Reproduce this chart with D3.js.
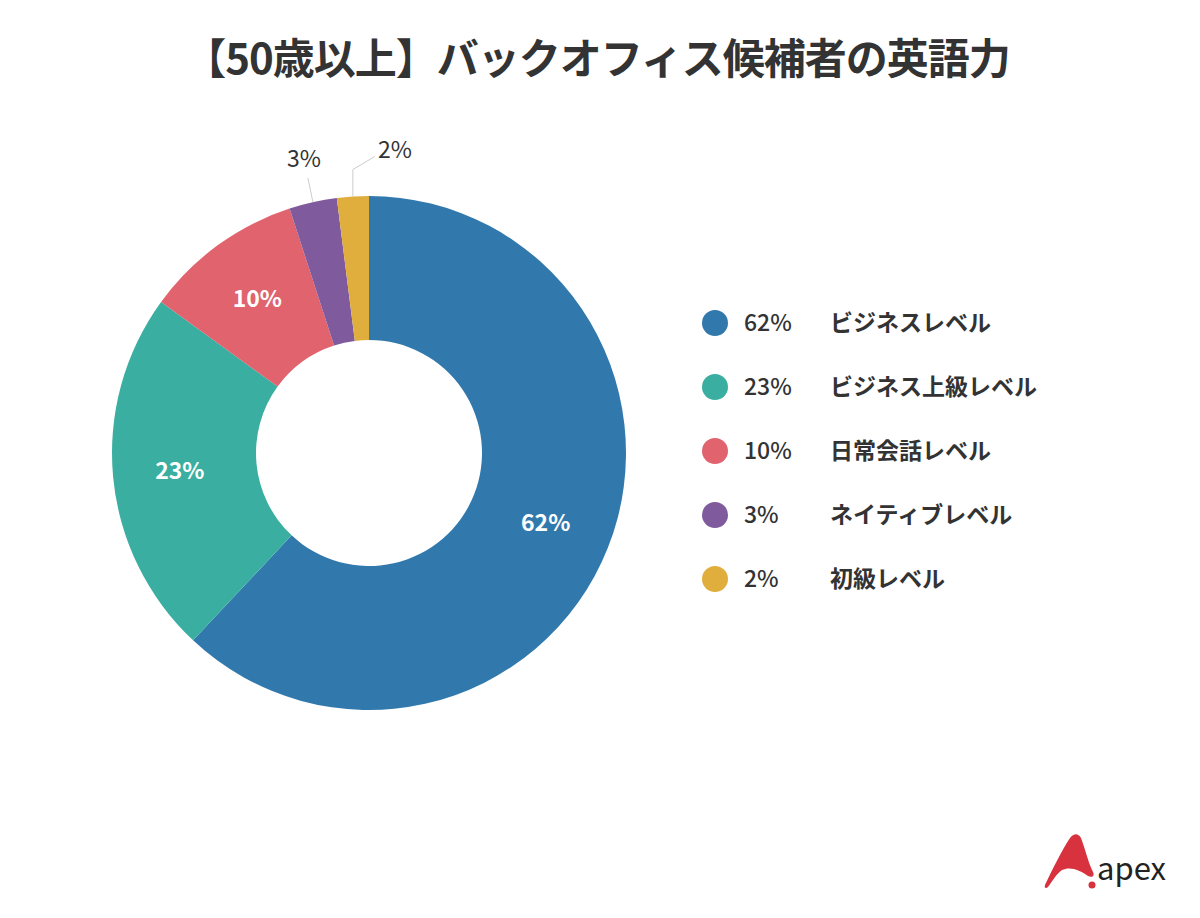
<!DOCTYPE html><html><head><meta charset="utf-8"><script src="https://cdn.jsdelivr.net/npm/d3@7"></script>
<style>body{margin:0;background:#fff}text{font-family:"Noto Sans CJK JP","Noto Sans",sans-serif}</style></head><body>
<svg id="c" width="1200" height="918"></svg>
<script>
const categories=["ビジネスレベル","ビジネス上級レベル","日常会話レベル","ネイティブレベル","初級レベル"];
const values=[62,23,10,3,2];
const colors=["#3179ad","#3aaea0","#e0636e","#7f5b9e","#e0ae3d"];
const svg=d3.select("#c");
svg.append("text").attr("x",597).attr("y",74).attr("text-anchor","middle").attr("font-size",42).attr("font-weight",700).attr("letter-spacing",-1).attr("fill","#333").text("【50歳以上】バックオフィス候補者の英語力");
const cx=369,cy=453,R=257,r=113;
const pie=d3.pie().sort(null)(values);
const arc=d3.arc().innerRadius(r).outerRadius(R);
const g=svg.append("g").attr("transform",`translate(${cx},${cy})`);
g.selectAll("path").data(pie).join("path").attr("d",arc).attr("fill",(d,i)=>colors[i]);
const lab=d3.arc().innerRadius(190).outerRadius(190);
pie.forEach((d,i)=>{
  if(values[i]>=5){const [x,y]=lab.centroid(d);
    g.append("text").attr("x",x).attr("y",y+8).attr("text-anchor","middle").attr("font-size",23).attr("font-weight",700).attr("fill","#fff").text(values[i]+"%");}
});
const outer=d3.arc().innerRadius(R).outerRadius(R);
const p3=outer.centroid(pie[3]), p4=outer.centroid(pie[4]);
g.append("path").attr("d",`M${p3[0]},${p3[1]}L${p3[0]-5},${p3[1]-24}`).attr("stroke","#ccc").attr("fill","none");
g.append("text").attr("x",p3[0]-9).attr("y",p3[1]-35).attr("text-anchor","middle").attr("font-size",23).attr("fill","#333").text(values[3]+"%");
g.append("path").attr("d",`M${p4[0]},${p4[1]}L${p4[0]},${p4[1]-27}L${p4[0]+22},${p4[1]-40}`).attr("stroke","#ccc").attr("fill","none");
g.append("text").attr("x",p4[0]+42).attr("y",p4[1]-39).attr("text-anchor","middle").attr("font-size",23).attr("fill","#333").text(values[4]+"%");
const y=d3.scalePoint().domain(categories).range([323,579]);
categories.forEach((c,i)=>{
  svg.append("circle").attr("cx",715).attr("cy",y(c)).attr("r",13).attr("fill",colors[i]);
  svg.append("text").attr("x",744).attr("y",y(c)+8).attr("font-size",23).attr("font-weight",500).attr("fill","#333").text(values[i]+"%");
  svg.append("text").attr("x",830).attr("y",y(c)+8).attr("font-size",23).attr("font-weight",700).attr("fill","#333").text(c);
});
svg.append("path").attr("d","M1045,885 C1052,870 1062,850 1070,838 C1074,833 1078,833 1081,838 C1085,848 1088,862 1093,872 C1095,876 1092,878 1088,876 C1080,870 1070,866 1062,870 C1056,874 1052,882 1048,887 C1046,889 1044,888 1045,885Z").attr("fill","#d8323f");
svg.append("circle").attr("cx",1092).attr("cy",885).attr("r",3.5).attr("fill","#d8323f");
svg.append("text").attr("x",1097).attr("y",880).attr("font-size",31).attr("font-family","Open Sans,sans-serif").attr("fill","#222").text("apex");
</script></body></html>
